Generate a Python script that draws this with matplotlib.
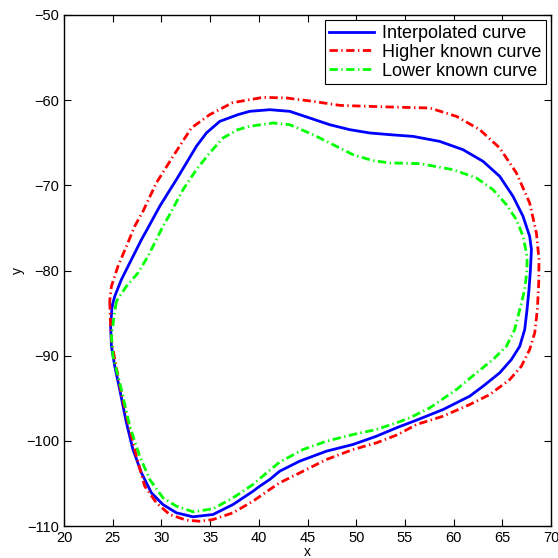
import matplotlib
matplotlib.use("Agg")
import matplotlib.pyplot as plt

plt.rcParams['font.family'] = ['Liberation Sans', 'DejaVu Sans']
plt.rcParams['lines.scale_dashes'] = False

# Interpolated curve (closed loop)
interp_x = [24.93, 24.79, 24.87, 25.21, 25.72, 26.41, 27.08, 27.95, 28.97, 30.16, 31.54, 33.24, 35.30,
            37.35, 39.40, 40.09, 41.12, 42.14, 44.19, 46.93, 49.67, 52.07, 54.29, 56.18, 58.91, 61.65,
            63.02, 64.73, 65.93, 66.79, 67.30, 67.54, 67.74, 67.89, 67.99, 67.81, 67.13, 66.10,
            64.73, 63.02, 60.96, 58.57, 55.83, 53.44, 51.38, 49.33, 47.28, 45.22, 43.17, 41.12, 39.07,
            37.86, 35.99, 34.62, 33.59, 32.57, 31.54, 30.68, 29.83, 28.62, 27.95, 26.92, 25.89, 25.21, 24.93]
interp_y = [-84.20, -86.55, -88.90, -91.24, -93.98, -97.89, -101.02, -103.76, -106.10, -107.48, -108.45, -108.92, -108.65,
            -107.48, -105.92, -105.33, -104.54, -103.57, -102.39, -101.22, -100.43, -99.46, -98.40, -97.58, -96.33, -94.76,
            -93.59, -92.02, -90.46, -88.90, -86.94, -84.59, -82.24, -79.89, -77.55, -75.99, -73.64, -71.29,
            -68.94, -67.18, -65.81, -64.84, -64.25, -64.05, -63.85, -63.46, -62.88, -62.09, -61.31, -61.12, -61.31,
            -61.70, -62.49, -63.85, -65.42, -67.37, -69.33, -70.89, -72.46, -75.00, -76.38, -78.72, -81.07, -83.03, -84.20]

# Higher known curve
high_x = [24.69, 24.76, 24.87, 25.21, 25.95, 26.75, 27.43, 28.29, 29.49, 30.85, 32.57, 33.93, 35.30,
          37.35, 39.40, 41.12, 42.14, 44.54, 46.93, 49.67, 52.07, 54.29, 56.18, 58.91, 61.65, 63.71,
          65.76, 66.96, 67.81, 68.33, 68.60, 68.74, 68.77, 68.50, 67.81, 66.45, 64.73, 62.68, 60.29,
          57.55, 53.44, 51.38, 48.31, 45.57, 42.83, 40.43, 37.30, 34.96, 33.08, 31.19, 29.49, 28.11,
          27.26, 26.41, 25.54, 24.87, 24.69]
high_y = [-83.61, -85.76, -88.11, -90.46, -94.76, -98.67, -101.80, -105.33, -107.28, -108.65, -109.32, -109.44, -109.24,
          -108.45, -107.09, -105.72, -104.93, -103.57, -102.20, -101.02, -100.24, -99.26, -98.09, -97.11, -95.74, -94.57,
          -92.81, -91.24, -89.28, -87.32, -84.59, -81.46, -78.72, -75.59, -72.07, -68.55, -65.61, -63.46, -61.90,
          -60.92, -60.80, -60.73, -60.61, -60.14, -59.74, -59.67, -60.30, -61.70, -63.26, -66.60, -69.70, -73.05,
          -74.80, -77.16, -79.50, -81.85, -83.61]

# Lower known curve
low_x = [25.38, 25.10, 24.87, 25.03, 25.89, 26.75, 27.77, 28.80, 30.16, 31.54, 33.24, 35.30, 37.35,
         39.40, 41.12, 42.14, 44.54, 46.93, 49.67, 52.07, 54.29, 55.49, 57.55, 60.29, 62.34, 64.04,
         65.42, 66.27, 66.79, 67.30, 67.54, 67.54, 67.13, 66.45, 65.42, 64.04, 62.34, 59.94, 56.52,
         53.44, 51.72, 49.67, 47.62, 45.57, 43.17, 41.46, 39.07, 37.86, 36.32, 34.96, 33.59, 32.22,
         30.85, 30.16, 29.65, 28.62, 27.60, 26.41, 25.38]
low_y = [-83.61, -85.76, -87.72, -90.07, -93.98, -98.28, -101.80, -104.54, -106.69, -107.67, -108.33, -107.98, -106.69,
         -105.13, -103.45, -102.50, -101.02, -100.05, -99.26, -98.67, -97.82, -97.30, -96.13, -93.98, -92.02, -90.46,
         -88.90, -86.94, -84.59, -82.24, -79.89, -78.33, -75.99, -74.03, -72.27, -70.50, -69.13, -68.16, -67.45,
         -67.37, -67.10, -66.40, -65.22, -64.05, -62.88, -62.68, -63.07, -63.46, -64.44, -66.20, -68.16, -70.50,
         -73.44, -74.80, -75.99, -78.33, -80.28, -81.85, -83.61]

labels = ['Interpolated curve', 'Higher known curve', 'Lower known curve']
x_ticks = [20, 25, 30, 35, 40, 45, 50, 55, 60, 65, 70]
y_ticks = [-110, -100, -90, -80, -70, -60, -50]

fig = plt.figure(figsize=(5.58, 5.58), dpi=100)
ax = fig.add_axes([64 / 558, 1 - 526 / 558, (551 - 64) / 558, (526 - 15) / 558])

dashdot = (0, (6, 2.5, 1, 2.5))
ax.plot(interp_x, interp_y, color='#0000ff', lw=2.0, label=labels[0])
ax.plot(high_x, high_y, color='#ff0000', lw=2.0, linestyle=dashdot, label=labels[1])
ax.plot(low_x, low_y, color='#00ff00', lw=2.0, linestyle=dashdot, label=labels[2])

ax.set_xlim(20, 70)
ax.set_ylim(-110, -50)
ax.set_xticks(x_ticks)
ax.set_yticks(y_ticks)
ax.tick_params(direction='in', top=True, right=True, labelsize=10.5, length=5, width=0.8)
for s in ax.spines.values():
    s.set_linewidth(1.0)
ax.set_xlabel('x', fontsize=10, labelpad=0)
ax.set_ylabel('y', fontsize=10, labelpad=1)

leg = ax.legend(loc='upper right', fontsize=13, frameon=True, fancybox=False,
                edgecolor='black', framealpha=1, borderaxespad=0.3,
                handlelength=2.5, handletextpad=0.4, labelspacing=0.1,
                borderpad=0.25)
leg.get_frame().set_linewidth(0.8)

fig.savefig('out.png', dpi=100)
